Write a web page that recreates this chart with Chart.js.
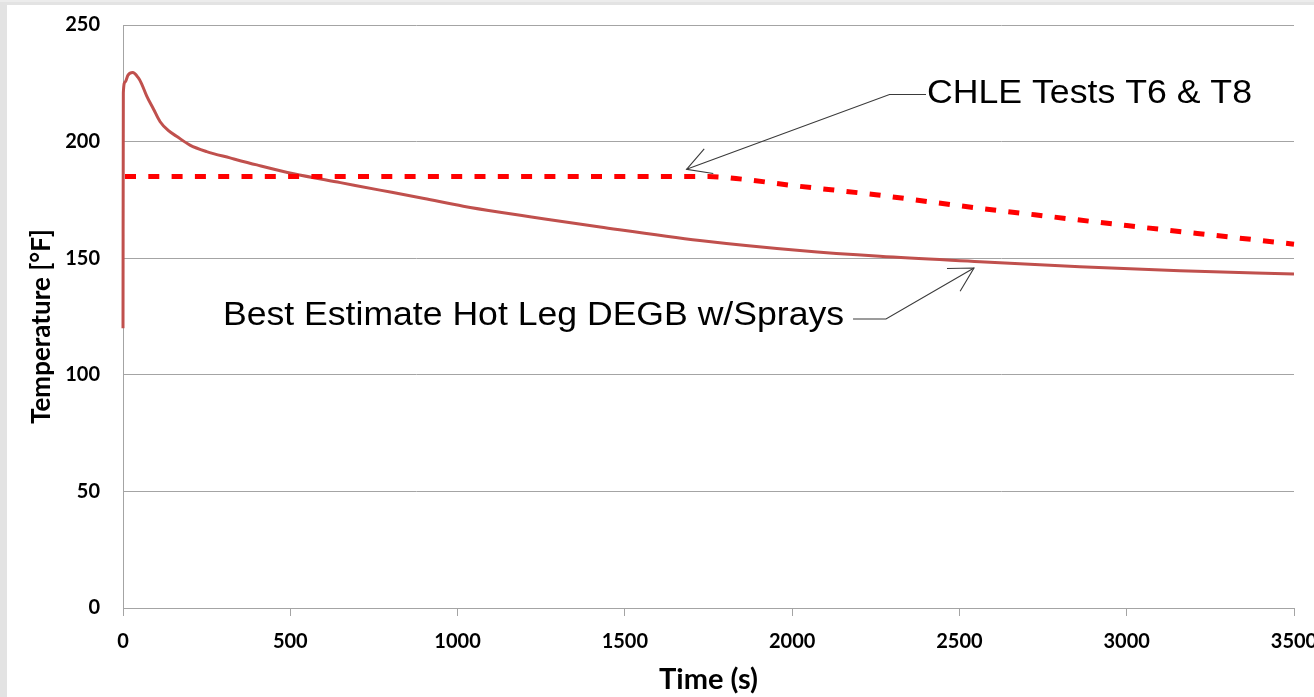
<!DOCTYPE html>
<html>
<head>
<meta charset="utf-8">
<title>Containment Pool Temperature</title>
<script src="https://cdn.jsdelivr.net/npm/chart.js@4.4.1/dist/chart.umd.min.js"></script>
<style>
  html, body { margin: 0; padding: 0; background: #ffffff; overflow: hidden; }
  #wrap { position: relative; width: 1314px; height: 697px; }
</style>
</head>
<body>
<div id="wrap"><canvas id="chart"></canvas></div>
<script>
// Best estimate hot leg DEGB with sprays: time (s) and temperature (°F)
const hotLegTime = [0, 1, 6, 15, 29, 45, 55, 71, 91, 111, 135, 160, 200, 250, 320, 400, 510, 650, 768, 900, 1017, 1127, 1216, 1426, 1724, 2023, 2262, 2561, 2860, 3159, 3500];
const hotLegTemp = [120, 221, 225.5, 228.5, 229.6, 227.5, 225, 219.5, 214, 208.5, 204.8, 202.3, 198.5, 195.7, 193.0, 190.0, 186.2, 182.4, 179.2, 175.6, 172.3, 169.7, 167.8, 163.4, 157.6, 153.3, 150.8, 148.5, 146.3, 144.6, 143.2];

// CHLE test profile (T6 & T8)
const chleTime = [0, 1750, 1850, 2000, 2250, 2500, 2750, 3000, 3250, 3500, 3560];
const chleTemp = [185, 185, 183.9, 181.2, 177.2, 172.5, 168.2, 164.0, 160.0, 156.0, 155.0];

// Axis ticks
const timeTicks = [0, 500, 1000, 1500, 2000, 2500, 3000, 3500];
const tempTicks = [0, 50, 100, 150, 200, 250];

const hotLegLabel = 'Best Estimate Hot Leg DEGB w/Sprays';
const chleLabel = 'CHLE Tests T6 & T8';
const yTitle = 'Temperature [°F]';

const toPoints = (xs, ys) => xs.map((x, i) => ({ x: x, y: ys[i] }));

// Callout placement in data units: text anchor, elbow of the leader, arrow tip
const callouts = [
  { text: chleLabel, align: 'left', textAt: [2403, 216.6], width: 325, elbow: [2291, 220.2], lineEnd: [2400, 220.2], tip: [1684.5, 188.1] },
  { text: hotLegLabel, align: 'right', textAt: [2155, 121.4], width: 621, elbow: [2280.5, 123.9], lineEnd: [2182, 123.9], tip: [2543.5, 145.8] }
];

const fontFamily = 'Lato, "Open Sans", sans-serif';

const frame = {
  id: 'frame',
  beforeDraw(chart) {
    const ctx = chart.ctx;
    ctx.save();
    ctx.fillStyle = '#ffffff';
    ctx.fillRect(0, 0, chart.width, chart.height);
    ctx.fillStyle = '#e3e3e3';
    ctx.fillRect(0, 0, 7, chart.height);
    ctx.fillRect(0, 0, chart.width, 5);
    ctx.fillStyle = '#ececec';
    ctx.fillRect(0, 0, chart.width, 2);
    ctx.restore();
  }
};

// Vertical axis title, set slightly below the middle of the axis
const yTitlePlugin = {
  id: 'yTitle',
  afterDraw(chart) {
    const ctx = chart.ctx;
    const a = chart.chartArea;
    ctx.save();
    ctx.translate(42, (a.top + a.bottom) / 2 + 10);
    ctx.rotate(-Math.PI / 2);
    ctx.font = 'bold 26px ' + fontFamily;
    ctx.fillStyle = '#000000';
    ctx.textAlign = 'center';
    ctx.textBaseline = 'middle';
    ctx.fillText(yTitle, 0, 0);
    ctx.restore();
  }
};

const calloutPlugin = {
  id: 'callouts',
  afterDraw(chart) {
    const ctx = chart.ctx;
    const xs = chart.scales.x, ys = chart.scales.y;
    const px = p => [xs.getPixelForValue(p[0]), ys.getPixelForValue(p[1])];
    ctx.save();
    callouts.forEach(c => {
      const [tx, ty] = px(c.textAt);
      const [ex, ey] = px(c.elbow);
      const [lx, ly] = px(c.lineEnd);
      const [ax, ay] = px(c.tip);
      // leader line
      ctx.strokeStyle = '#3a3a3a';
      ctx.lineWidth = 1.1;
      ctx.beginPath();
      ctx.moveTo(lx, ly);
      ctx.lineTo(ex, ey);
      ctx.lineTo(ax, ay);
      ctx.stroke();
      // open arrowhead
      const ang = Math.atan2(ey - ay, ex - ax);
      const len = 27, spread = 29 * Math.PI / 180;
      ctx.beginPath();
      ctx.moveTo(ax + len * Math.cos(ang - spread), ay + len * Math.sin(ang - spread));
      ctx.lineTo(ax, ay);
      ctx.lineTo(ax + len * Math.cos(ang + spread), ay + len * Math.sin(ang + spread));
      ctx.stroke();
      // label
      ctx.font = '34px "Liberation Sans", Arial, sans-serif';
      ctx.fillStyle = '#000000';
      ctx.textBaseline = 'alphabetic';
      ctx.textAlign = 'left';
      const w = ctx.measureText(c.text).width;
      const left = c.align === 'left' ? tx : tx - c.width;
      ctx.save();
      ctx.translate(left, ty);
      ctx.scale(c.width / w, 1);
      ctx.fillText(c.text, 0, 0);
      ctx.restore();
    });
    ctx.restore();
  }
};

const gridGrey = '#a4a4a4';
const tickFont = { family: fontFamily, size: 20, weight: 'bold' };
const xTitleFont = { family: fontFamily, size: 29, weight: 'bold' };
const plainNumber = v => String(v);

new Chart(document.getElementById('chart'), {
  type: 'line',
  data: {
    datasets: [
      {
        label: chleLabel,
        data: toPoints(chleTime, chleTemp),
        borderColor: '#ff0000',
        borderWidth: 5,
        borderDash: [11, 12.3],
        borderDashOffset: 21.3,
        pointRadius: 0,
        cubicInterpolationMode: 'monotone',
        clip: false,
        order: 0
      },
      {
        label: hotLegLabel,
        data: toPoints(hotLegTime, hotLegTemp),
        borderColor: '#c0504d',
        borderWidth: 3,
        pointRadius: 0,
        cubicInterpolationMode: 'monotone',
        clip: false,
        order: 1
      }
    ]
  },
  options: {
    responsive: true,
    maintainAspectRatio: false,
    animation: false,
    devicePixelRatio: 1,
    layout: { padding: { left: 0, top: 25, right: 20, bottom: 0 } },
    plugins: {
      legend: { display: false },
      tooltip: { enabled: false }
    },
    scales: {
      x: {
        type: 'linear',
        min: timeTicks[0],
        max: timeTicks[timeTicks.length - 1],
        ticks: {
          stepSize: timeTicks[1] - timeTicks[0],
          color: '#000000',
          font: tickFont,
          padding: 14,
          maxRotation: 0,
          autoSkip: false,
          callback: plainNumber
        },
        grid: { drawOnChartArea: false, drawTicks: true, tickLength: 8, color: gridGrey },
        border: { display: true, color: gridGrey },
        title: { display: true, text: 'Time (s)', color: '#000000', font: xTitleFont, padding: { top: 0, bottom: 0 } },
        afterFit(scale) { scale.height = 89; scale.paddingLeft = 0; scale.paddingRight = 0; }
      },
      y: {
        min: tempTicks[0],
        max: tempTicks[tempTicks.length - 1],
        ticks: {
          stepSize: tempTicks[1] - tempTicks[0],
          color: '#000000',
          font: tickFont,
          padding: 23,
          callback: plainNumber
        },
        grid: { drawTicks: false, color: gridGrey },
        border: { display: true, color: gridGrey },
        afterFit(scale) { scale.width = 123; scale.paddingTop = 0; scale.paddingBottom = 0; }
      }
    }
  },
  plugins: [frame, yTitlePlugin, calloutPlugin]
});
</script>
</body>
</html>
